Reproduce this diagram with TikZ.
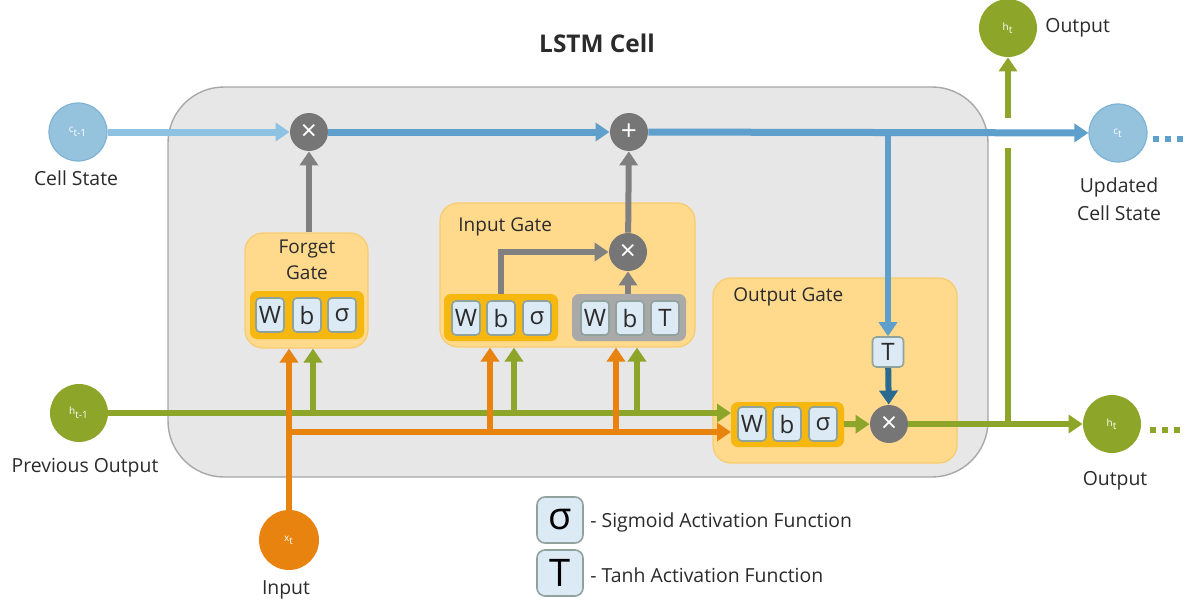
\documentclass[tikz,border=0pt]{standalone}
\usepackage{fontspec}
\setmainfont{Open Sans}
\usetikzlibrary{arrows.meta,fit}
\definecolor{txt}{HTML}{2B2B2B}
\definecolor{cfill}{HTML}{95C3DE}
\definecolor{cdraw}{HTML}{7FB3D4}
\definecolor{hgreen}{HTML}{8DA62A}
\definecolor{xorange}{HTML}{E8830F}
\definecolor{gatefill}{HTML}{FFD98C}
\definecolor{gateborder}{HTML}{F8CC6E}
\definecolor{gold}{HTML}{F6B80E}
\definecolor{stripgray}{HTML}{A9A9A9}
\definecolor{cellfill}{HTML}{DCEAF5}
\definecolor{cellborder}{HTML}{8FA39C}
\definecolor{boxfill}{HTML}{E7E7E7}
\definecolor{boxborder}{HTML}{A8A8A8}
\definecolor{opgray}{HTML}{767676}
\definecolor{arrgray}{HTML}{808080}
\definecolor{cblueA}{HTML}{8DC2E2}
\definecolor{cblueB}{HTML}{5E9FCC}
\definecolor{dblue}{HTML}{2B6A90}
\begin{document}
\begin{tikzpicture}[x=0.5pt,y=-0.5pt,
  arr/.style={-{Triangle[width=9pt,length=7pt]}},
  lbl/.style={text=txt,font=\fontsize{9.7}{12}\selectfont,inner sep=0},
  gtext/.style={text=txt,font=\fontsize{9.5}{13}\selectfont,inner sep=0},
  cellbox/.style={draw=cellborder,fill=cellfill,rounded corners=2pt,line width=0.8pt,
     minimum width=14pt,minimum height=17pt,inner sep=0,text=txt,font=\fontsize{12}{12}\selectfont},
  stripY/.style={draw=gold,fill=gold,rounded corners=3pt,line width=1pt,inner sep=0},
  stripG/.style={draw=stripgray,fill=stripgray,rounded corners=3pt,line width=1pt,inner sep=0},
  gate/.style={fill=gatefill,draw=gateborder,rounded corners=9pt,line width=0.6pt,inner sep=0},
  op/.style={circle,fill=opgray,minimum size=19pt,inner sep=0,text=white,font=\fontsize{14}{14}\selectfont},
  bigc/.style={circle,minimum size=29pt,inner sep=0,text=white,font=\fontsize{5}{6}\selectfont},
  legbox/.style={draw=cellborder,fill=cellfill,rounded corners=4pt,line width=0.8pt,
     minimum size=23pt,inner sep=0,text=black,font=\fontsize{19}{19}\selectfont},
  gline/.style={line width=3pt,hgreen},
  oline/.style={line width=3pt,xorange},
  grayline/.style={line width=3pt,arrgray},
  bline/.style={line width=3.5pt}
]
\useasboundingbox[fill=white] (0,0) rectangle (1191,605);

% title
\node[text=txt,font=\bfseries\fontsize{12.2}{14}\selectfont] (title) at (597,43) {LSTM Cell};

% cell body
\node[fit={(168,87) (988,477)},inner sep=0,fill=boxfill,draw=boxborder,line width=0.7pt,rounded corners=28pt] (cell) {};

% gates
\node[gate,fit={(245,233) (368,348)}] (fg) {};
\node[gtext,align=center] (fgt) at (307,260) {Forget\\Gate};
\node[gate,fit={(440,203) (695,347)}] (ig) {};
\node[gtext,anchor=west] (igt) at (458,227) {Input Gate};
\node[gate,fit={(713,278) (957,463)}] (og) {};
\node[gtext,anchor=west] (ogt) at (733,297) {Output Gate};

% strips and cells
\node[stripY,fit={(251,292) (363,338)}] (fs) {};
\node[cellbox] (fW) at (270,315) {W};
\node[cellbox] (fb) at (307,315) {b};
\node[cellbox] (fsg) at (342,315) {σ};

\node[stripY,fit={(445,295) (557,340)}] (isL) {};
\node[cellbox] (iW) at (466,318) {W};
\node[cellbox] (ib) at (501,318) {b};
\node[cellbox] (isg) at (537,318) {σ};

\node[stripG,fit={(573,295) (685,340)}] (isR) {};
\node[cellbox] (iW2) at (595,318) {W};
\node[cellbox] (ib2) at (630,318) {b};
\node[cellbox] (iT) at (665,318) {T};

\node[stripY,fit={(732,403) (843,446)}] (os) {};
\node[cellbox] (oW) at (752,424) {W};
\node[cellbox] (ob) at (787,424) {b};
\node[cellbox] (osg) at (823,424) {σ};
\node[cellbox,minimum width=15.5pt,minimum height=15pt] (tbox) at (888,352) {T};

% operators
\node[op] (mulf) at (309,132) {×};
\node[op] (plus) at (629,132) {+};
\node[op] (mi) at (628,252) {×};
\node[op] (mo) at (889,424) {×};

% terminals
\node[bigc,fill=cfill,draw=cdraw,line width=0.6pt] (cprev) at (78,132) {c\textsubscript{t-1}};
\node[bigc,fill=cfill,draw=cdraw,line width=0.6pt] (ct) at (1118,133) {c\textsubscript{t}};
\node[bigc,fill=hgreen] (hprev) at (79,413) {h\textsubscript{t-1}};
\node[bigc,fill=hgreen] (hout) at (1112,424) {h\textsubscript{t}};
\node[bigc,fill=hgreen] (htop) at (1008,28) {h\textsubscript{t}};
\node[bigc,fill=xorange,minimum size=30pt] (xt) at (289,540) {x\textsubscript{t}};

% labels
\node[lbl] (lcs) at (76,178) {Cell State};
\node[lbl] (lpo) at (85,468) {Previous Output};
\node[lbl] (lin) at (286,590) {Input};
\node[lbl,anchor=west] (lot) at (1045,28) {Output};
\node[lbl,align=center,font=\fontsize{9.7}{14}\selectfont] (lucs) at (1119,199) {Updated\\Cell State};
\node[lbl] (lob) at (1115,481) {Output};

% legend
\node[legbox] (ls) at (560,520) {σ};
\node[legbox] (lt) at (560,573) {T};
\node[lbl,anchor=west] (lst) at (590,522) {- Sigmoid Activation Function};
\node[lbl,anchor=west] (ltt) at (590,575) {- Tanh Activation Function};

% cell state line
\draw[bline,cblueA,arr] (cprev) -- (mulf);
\draw[bline,cblueB,arr] (mulf) -- (plus);
\draw[bline,cblueB,arr] (plus) -- (ct);
\coordinate (tj) at (888,131);
\draw[line width=3pt,cblueB,arr] (tj) -- (tbox);
\draw[line width=3pt,dblue,arr] (tbox) -- (mo);

% gray internal arrows
\draw[grayline,arr] (mulf |- fg.north) -- (mulf);
\draw[grayline,arr] (ib |- isL.north) -- (ib |- mi) -- (mi);
\draw[grayline,arr] (mi |- isR.north) -- (mi);
\draw[grayline,arr] (mi) -- (plus);

% previous output (green)
\coordinate (g1) at (313,413);
\coordinate (g2) at (514,413);
\coordinate (g3) at (637,413);
\draw[gline,arr] (hprev) -- (os.west |- hprev);
\draw[gline,arr] (g1) -- (g1 |- fg.south);
\draw[gline,arr] (g2) -- (g2 |- ig.south);
\draw[gline,arr] (g3) -- (g3 |- ig.south);

% input (orange)
\coordinate (o0) at (289,432);
\coordinate (o1) at (490,432);
\coordinate (o2) at (616,432);
\draw[oline,arr] (xt) -- (xt |- fg.south);
\draw[oline,arr] (o0) -- (os.west |- o0);
\draw[oline,arr] (o1) -- (o1 |- ig.south);
\draw[oline,arr] (o2) -- (o2 |- ig.south);

% output gate
\draw[gline,arr] (os) -- (mo);
\draw[gline,arr] (mo) -- (hout);
\coordinate (hj) at (1008,424);
\coordinate (gapb) at (1008,148);
\coordinate (gapt) at (1008,118);
\draw[gline] (hj) -- (gapb);
\draw[gline,arr] (gapt) -- (htop);

% continuation dots
\coordinate (cd1) at (1153,139);
\coordinate (cd2) at (1186,139);
\draw[line width=3pt,cblueB,dash pattern=on 3pt off 3pt] (cd1) -- (cd2);
\coordinate (hd1) at (1150,430);
\coordinate (hd2) at (1183,430);
\draw[line width=3pt,hgreen,dash pattern=on 3pt off 3pt] (hd1) -- (hd2);
\end{tikzpicture}
\end{document}
